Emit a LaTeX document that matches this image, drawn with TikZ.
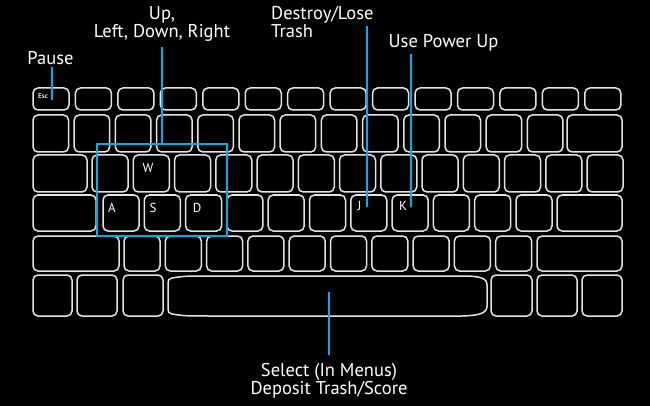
\documentclass[tikz,border=0pt]{standalone}
\usepackage{fontspec}
\setmainfont{PT Sans}
\usetikzlibrary{positioning}

\definecolor{keyline}{RGB}{228,228,228}
\definecolor{callblue}{RGB}{0,174,239}

\tikzset{
  keycap/.style={draw=keyline, line width=1.5pt, rounded corners=5pt, inner sep=0pt},
  keyletter/.style={text=white, font=\fontsize{13}{13}\selectfont, inner sep=0pt},
  note/.style={text=white, font=\fontsize{18.5}{18}\selectfont, inner sep=2pt},
  callout/.style={draw=callblue, line width=2.2pt},
  wasdbox/.style={draw=callblue, line width=1.8pt, inner sep=0pt}
}

\begin{document}
\begin{tikzpicture}[x=1pt, y=-1pt]
  % Background
  \fill[black] (0,0) rectangle (650,406);
  \useasboundingbox (0,0) rectangle (650,406);

  % Function row
  \foreach \i in {0,...,13}
    \node[keycap, minimum width=36pt, minimum height=22pt] (f\i) at ({51+\i*42.45},99) {};
  \node[text=keyline, font=\fontsize{7}{7}\selectfont\bfseries, inner sep=0pt] (esc label) at (43,96) {Esc};

  % Number row
  \foreach \i in {0,...,12}
    \node[keycap, minimum width=35.5pt, minimum height=37pt] (n\i) at ({50.75+\i*41.2},133.5) {};
  \node[keycap, minimum width=55pt, minimum height=37pt] (backspace) at (594.5,133.5) {};

  % Top letter row
  \node[keycap, minimum width=54pt, minimum height=37pt] (tab) at (60,173.5) {};
  \foreach \i in {0,...,12}
    \node[keycap, minimum width=36pt, minimum height=37pt] (t\i) at ({110+\i*41.25},173.5) {};

  % Home row
  \node[keycap, minimum width=63pt, minimum height=36pt] (caps) at (64.5,213) {};
  \foreach \i in {0,...,10}
    \node[keycap, minimum width=36pt, minimum height=36pt] (h\i) at ({121+\i*41.3},213) {};
  \node[keycap, minimum width=65pt, minimum height=36pt] (enter) at (589.5,213) {};

  % Shift row
  \node[keycap, minimum width=86pt, minimum height=35pt] (lshift) at (76,253.5) {};
  \foreach \i in {0,...,9}
    \node[keycap, minimum width=36pt, minimum height=35pt] (s\i) at ({142+\i*41.3},253.5) {};
  \node[keycap, minimum width=85pt, minimum height=35pt] (rshift) at (579.5,253.5) {};

  % Bottom row
  \foreach \x/\w [count=\i] in {52.5/39, 97/40, 143/40, 511.5/41, 557/40, 602/40}
    \node[keycap, minimum width=\w pt, minimum height=41pt] (b\i) at (\x,295.5) {};

  % Space bar (flared ends)
  \draw[keyline, line width=1.5pt] (172,278) .. controls (185,276) .. (215,276) -- (462,276)
    .. controls (480,276) and (487,278) .. (487,285) -- (487,306)
    .. controls (487,313) and (480,315.5) .. (462,316) -- (215,316)
    .. controls (185,316) .. (172,314) .. controls (169,313.5) and (168,312) .. (168,309)
    -- (168,283) .. controls (168,280) and (169,278.5) .. (172,278) -- cycle;

  % Key letters
  \node[keyletter, anchor=base] (w) at (148,173) {W};
  \node[keyletter, anchor=base] (a) at (112,212) {A};
  \node[keyletter, anchor=base] (s) at (153,212) {S};
  \node[keyletter, anchor=base] (d) at (197,212) {D};
  \node[keyletter, anchor=base] (j) at (359.5,211) {J};
  \node[keyletter, anchor=base] (k) at (403,211) {K};

  % Descriptions (base = last line)
  \node[note, anchor=base] (pause) at (50.5,65) {Pause};
  \node[note, align=center, anchor=base] (arrows) at (162,38) {Up,\\Left, Down, Right};
  \node[note, anchor=base west] (destroy) at (269,20) {Destroy/Lose};
  \node[note, anchor=base west] (trash) at (269,38) {Trash};
  \node[note, anchor=base] (power) at (443.5,48) {Use Power Up};
  \node[note, align=center, anchor=base] (select) at (329,394) {Select (In Menus)\\Deposit Trash/Score};

  % WASD frame
  \node[wasdbox, minimum width=130pt, minimum height=92pt] (wasd) at (162,190) {};

  % Callout lines
  \coordinate (esc tip) at (52,100);
  \coordinate (j tip) at (367,207);
  \coordinate (k tip) at (411,207);
  \coordinate (space tip) at (329,292);
  \draw[callout] (pause.south -| esc tip) -- (esc tip);
  \draw[callout, shorten <=3pt] (arrows.south) -- (arrows.south |- wasd.north);
  \draw[callout] (destroy.south -| j tip) -- (j tip);
  \draw[callout] (power.south -| k tip) -- (k tip);
  \draw[callout, shorten >=6pt] (space tip) -- (space tip |- select.north);
\end{tikzpicture}
\end{document}
